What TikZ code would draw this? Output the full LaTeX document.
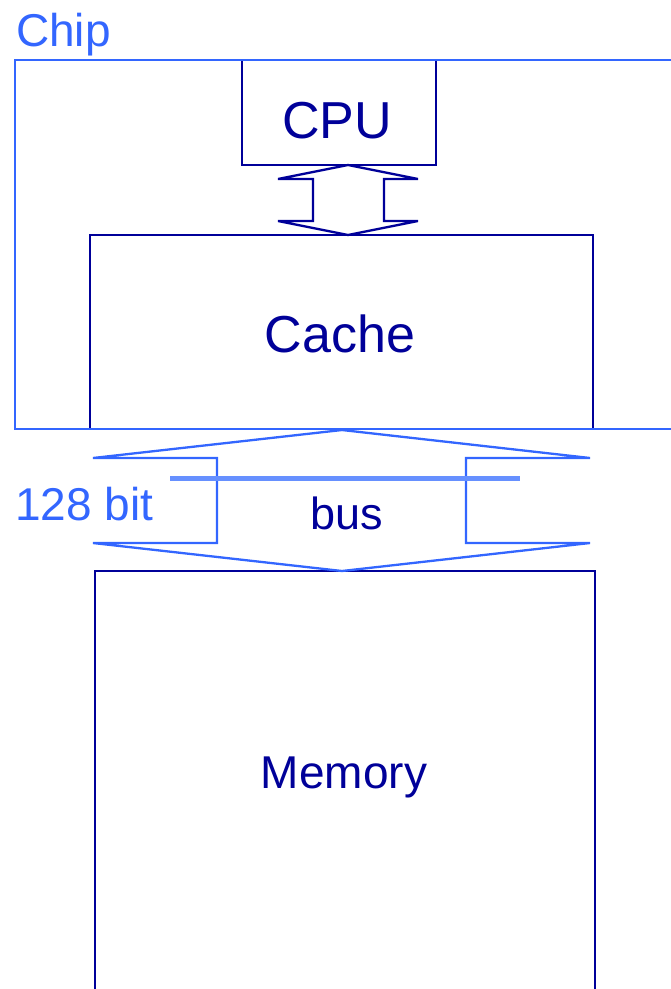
\documentclass[tikz,border=0pt]{standalone}
\usepackage{fontspec}
\setmainfont{Liberation Sans}
\definecolor{navy}{RGB}{0,0,153}
\definecolor{chipblue}{RGB}{51,102,255}
\definecolor{barblue}{RGB}{102,144,255}
\begin{document}
\begin{tikzpicture}[x=1pt,y=-1pt,
  box/.style={draw=navy,line width=2.3pt,fill=none},
  arr/.style={line width=2.3pt,line join=miter},
  lbl/.style={inner sep=0pt,anchor=center}]
\useasboundingbox (0,0) rectangle (671,989);
\clip (0,0) rectangle (671,989);
% boxes
\draw[box] (242,60) rectangle (436,165);
\node[lbl,text=navy,font=\fontsize{52}{54}\selectfont] (cpu) at (337,121) {CPU};
\draw[box] (90,429) -- (90,235) -- (593,235) -- (593,429);
\node[lbl,text=navy,font=\fontsize{52}{54}\selectfont] (cache) at (340,334) {Cache};
\draw[box] (95,995) -- (95,571) -- (595,571) -- (595,995);
\node[lbl,text=navy,font=\fontsize{46}{48}\selectfont] (memory) at (344,777) {Memory};
% chip
\draw[draw=chipblue,line width=2.5pt] (680,60) -- (15,60) -- (15,429) -- (680,429);
\node[lbl,anchor=base west,text=chipblue,font=\fontsize{46}{48}\selectfont] (chip) at (16,46) {Chip};
% CPU-cache arrow
\draw[arr,navy] (348,165) -- (418,179) -- (384,179) -- (384,221) -- (418,221) -- (348,235)
  -- (278,221) -- (313,221) -- (313,179) -- (278,179) -- cycle;
% bus arrow
\draw[arr,chipblue] (342,430) -- (590,458) -- (466,458) -- (466,543) -- (590,543) -- (342,571)
  -- (93,543) -- (217,543) -- (217,458) -- (93,458) -- cycle;
\draw[barblue,line width=5pt] (170,478) -- (520,478);
\node[lbl,text=navy,font=\fontsize{45}{47}\selectfont] (bus) at (347,513) {bus};
\node[lbl,anchor=base west,text=chipblue,font=\fontsize{46}{48}\selectfont] (width) at (15,520) {128 bit};
\end{tikzpicture}
\end{document}
